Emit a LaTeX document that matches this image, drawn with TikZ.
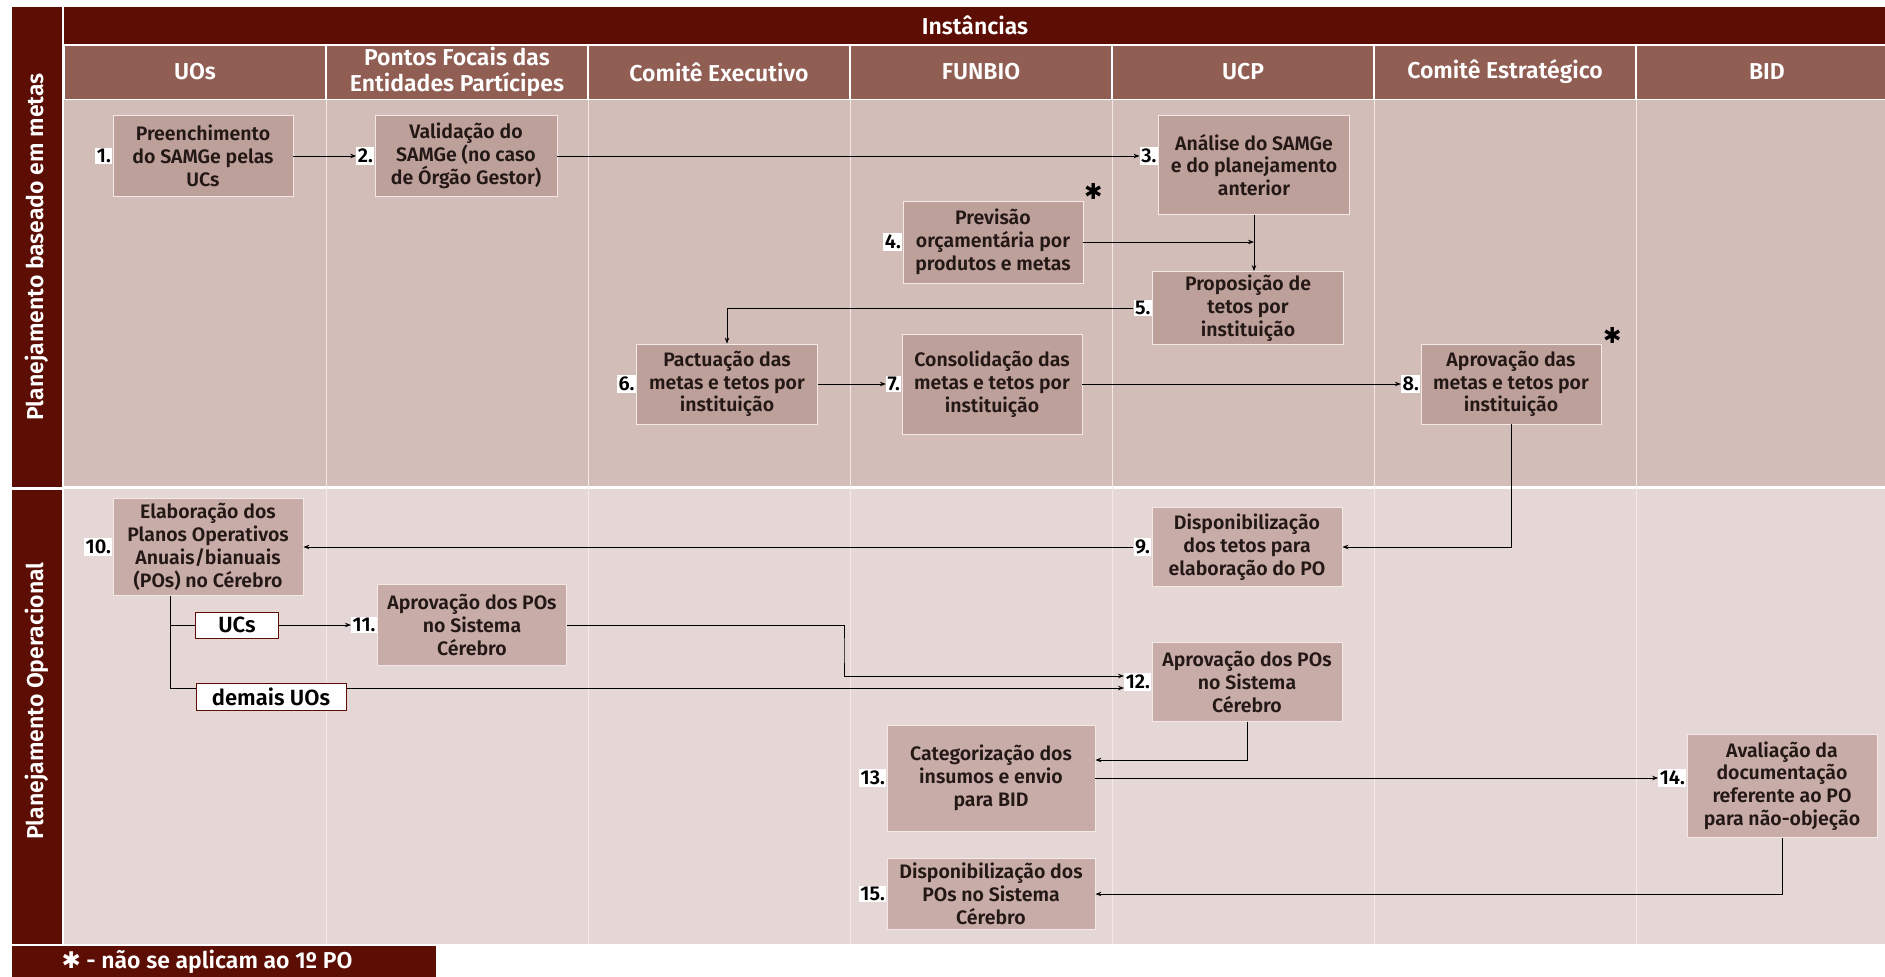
\documentclass[tikz,border=0pt]{standalone}
\usepackage{fontspec}
\setmainfont{Fira Sans}[BoldFont={* SemiBold}]
\newfontfamily\symbfont{DejaVu Sans}
\usetikzlibrary{positioning,arrows.meta}

\definecolor{darkband}{HTML}{5C0E04}
\definecolor{headband}{HTML}{915E54}
\definecolor{upperbg}{HTML}{D3BDB8}
\definecolor{lowerbg}{HTML}{E5D7D5}
\definecolor{upperbox}{HTML}{BEA09B}
\definecolor{lowerbox}{HTML}{C8ACA8}
\definecolor{boxline}{HTML}{F4E9E7}
\definecolor{inktext}{HTML}{231815}

\tikzset{
  stepbox/.style={draw=boxline, line width=0.8pt, fill=upperbox, text=inktext,
    align=center, inner sep=2pt, font=\bfseries\fontsize{19.5}{22.8}\selectfont},
  lowbox/.style={stepbox, fill=lowerbox},
  numlab/.style={fill=white, text=black, inner sep=1.5pt,
    font=\bfseries\fontsize{20}{22}\selectfont},
  tagbox/.style={draw=darkband, line width=1pt, fill=white, text=black,
    inner sep=2pt, font=\bfseries\fontsize{22}{24}\selectfont},
  headtext/.style={text=white, align=center, font=\bfseries\fontsize{23}{26}\selectfont},
  starmark/.style={text=black, inner sep=0pt, font=\symbfont\fontsize{22}{22}\selectfont},
  flow/.style={-{Stealth[length=6pt,width=4.5pt]}, line width=0.9pt, draw=black},
  plain/.style={line width=0.9pt, draw=black},
}

\begin{document}
\begin{tikzpicture}[x=1pt, y=-1pt]
    \useasboundingbox (0,0) rectangle (1885,977);

    % draw bands and backgrounds
    \fill[darkband] (12,7) rectangle (62,487);
    \fill[darkband] (12,490) rectangle (62,944);
    \fill[darkband] (64,7) rectangle (1885,44);
    \fill[darkband] (12,946) rectangle (436,977);
    \fill[upperbg] (64,100) rectangle (1885,486);
    \fill[lowerbg] (64,489) rectangle (1885,944);
    \foreach \i in {0,...,6}
      \fill[headband] (65+262*\i, 46) rectangle (325+262*\i, 99);
    \foreach \i in {1,...,6}
      \draw[boxline, line width=1pt] (64+262*\i, 100) -- (64+262*\i, 944);

    % draw header texts
    \node[headtext] (inst) at (975,25) {Instâncias};
    \foreach \name [count=\i from 0] in {UOs, {Pontos Focais das\\Entidades Partícipes},
        Comitê Executivo, FUNBIO, UCP, Comitê Estratégico, BID}
      \node[headtext] (col\i) at (195+262*\i, 72) {\name};
    \node[headtext, rotate=90] (rowtop) at (37,247) {Planejamento baseado em metas};
    \node[headtext, rotate=90] (rowbot) at (37,701) {Planejamento Operacional};
    \node[headtext, anchor=west] (note) at (58,962) {{\symbfont ✱} - não se aplicam ao 1º PO};

    % draw upper boxes
    \node[stepbox, minimum width=180, minimum height=81] (b1) at (203,156) {Preenchimento\\do SAMGe pelas\\UCs};
    \node[stepbox, minimum width=182, minimum height=81] (b2) at (466,156) {Validação do\\SAMGe (no caso\\de Órgão Gestor)};
    \node[stepbox, minimum width=191, minimum height=99] (b3) at (1254,165) {Análise do SAMGe\\e do planejamento\\anterior};
    \node[stepbox, minimum width=180, minimum height=82] (b4) at (993,242) {Previsão\\orçamentária por\\produtos e metas};
    \node[stepbox, minimum width=191, minimum height=73] (b5) at (1248,308) {Proposição de\\tetos por\\instituição};
    \node[stepbox, minimum width=181, minimum height=80] (b6) at (727,384) {Pactuação das\\metas e tetos por\\instituição};
    \node[stepbox, minimum width=180, minimum height=100] (b7) at (992,384) {Consolidação das\\metas e tetos por\\instituição};
    \node[stepbox, minimum width=180, minimum height=80] (b8) at (1511,384) {Aprovação das\\metas e tetos por\\instituição};

    % draw lower boxes
    \node[lowbox, minimum width=190, minimum height=79] (b9) at (1247,547) {Disponibilização\\dos tetos para\\elaboração do PO};
    \node[lowbox, minimum width=190, minimum height=97] (b10) at (208,547) {Elaboração dos\\Planos Operativos\\Anuais/bianuais\\(POs) no Cérebro};
    \node[lowbox, minimum width=189, minimum height=81] (b11) at (472,625) {Aprovação dos POs\\no Sistema\\Cérebro};
    \node[tagbox, minimum width=83, minimum height=26] (ucs) at (237,625) {UCs};
    \node[tagbox, minimum width=150, minimum height=27] (demais) at (271,697) {demais UOs};
    \node[lowbox, minimum width=190, minimum height=79] (b12) at (1247,682) {Aprovação dos POs\\no Sistema\\Cérebro};
    \node[lowbox, minimum width=208, minimum height=106] (b13) at (991,778) {Categorização dos\\insumos e envio\\para BID};
    \node[lowbox, minimum width=190, minimum height=103] (b14) at (1782,786) {Avaliação da\\documentação\\referente ao PO\\para não-objeção};
    \node[lowbox, minimum width=208, minimum height=71] (b15) at (991,894) {Disponibilização dos\\POs no Sistema\\Cérebro};

    % draw step numbers
    \node[numlab, left=0pt of b1] (n1) {1.};
    \node[numlab, left=0pt of b2] (n2) {2.};
    \node[numlab, anchor=east] (n3) at (b3.west |- b2.east) {3.};
    \node[numlab, left=0pt of b4] (n4) {4.};
    \node[numlab, left=0pt of b5] (n5) {5.};
    \node[numlab, left=0pt of b6] (n6) {6.};
    \node[numlab, left=0pt of b7] (n7) {7.};
    \node[numlab, left=0pt of b8] (n8) {8.};
    \node[numlab, left=0pt of b9] (n9) {9.};
    \node[numlab, left=0pt of b10] (n10) {10.};
    \node[numlab, left=0pt of b11] (n11) {11.};
    \node[numlab, left=0pt of b12] (n12) {12.};
    \node[numlab, left=0pt of b13] (n13) {13.};
    \node[numlab, anchor=east] (n14) at (b14.west |- b13.east) {14.};
    \node[numlab, left=0pt of b15] (n15) {15.};

    % draw asterisks
    \node[starmark] (s4) at ([xshift=10pt, yshift=9pt]b4.north east) {✱};
    \node[starmark] (s8) at ([xshift=11pt, yshift=8pt]b8.north east) {✱};

    % draw upper flow
    \draw[flow] (b1) -- (n2);
    \draw[flow] (b2) -- (n3);
    \draw[flow] (b3.south) -- (b3.south |- b5.north);
    \draw[flow] (b4) -- (b3.south |- b4.east);
    \draw[flow] (n5.west) -| (b6.north);
    \draw[flow] (b6) -- (n7);
    \draw[flow] (b7) -- (n8);
    \draw[flow] (b8.south) |- (b9.east);

    % draw lower flow
    \draw[flow] (n9) -- (b10);
    \coordinate (fork) at ([xshift=-38pt]b10.south);
    \coordinate (turn11) at (844,650);
    \draw[plain] (fork) |- ([yshift=9pt]demais.west);
    \draw[plain] (fork |- ucs.west) -- (ucs.west);
    \draw[flow] (ucs) -- (n11);
    \draw[flow] (b11.east) -| (turn11) |- ([yshift=6pt]n12.west);
    \draw[flow] ([yshift=9pt]demais.east) -- ([yshift=-6pt]n12.west);
    \draw[flow] (b12.south) |- ([yshift=18pt]b13.east);
    \draw[flow] (b13.east) -- (n14.west);
    \draw[flow] (b14.south) |- (b15.east);

\end{tikzpicture}
\end{document}
